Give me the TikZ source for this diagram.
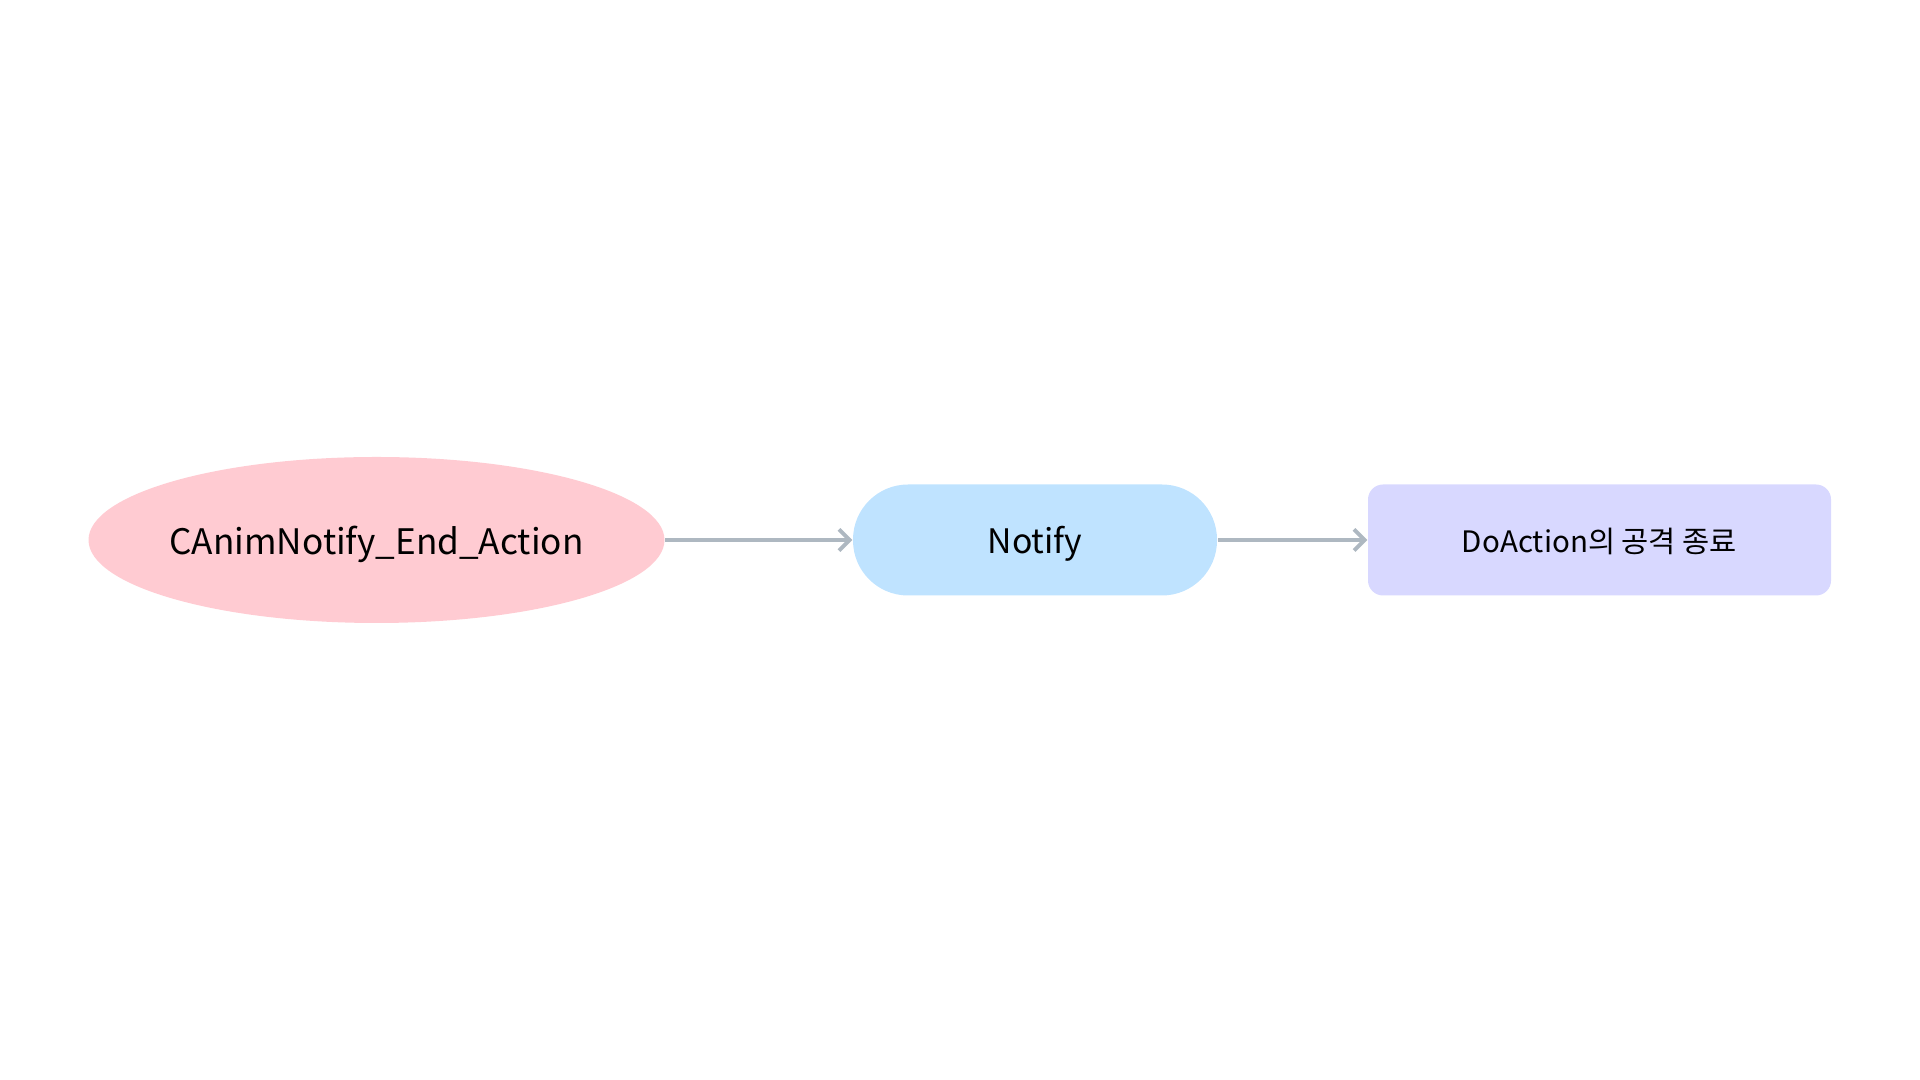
\documentclass[tikz,border=0pt]{standalone}
\usepackage{fontspec}
\setmainfont{Noto Sans CJK KR}
\usetikzlibrary{shapes.geometric, arrows.meta}
\definecolor{startpink}{HTML}{FFCBD2}
\definecolor{callblue}{HTML}{BFE3FF}
\definecolor{endviolet}{HTML}{D8D8FF}
\definecolor{linkgray}{HTML}{AEB8C1}
\begin{document}
\begin{tikzpicture}[>={Straight Barb[length=3pt,width=6pt]},
  startnode/.style={ellipse, fill=startpink, inner xsep=-0.25cm, inner ysep=0pt, text depth=0pt, minimum width=5.76cm, minimum height=1.66cm, font=\fontsize{10pt}{12pt}\selectfont},
  callnode/.style={rectangle, rounded corners=0.55cm, fill=callblue, text depth=0pt, minimum width=3.64cm, minimum height=1.11cm, font=\fontsize{9.6pt}{12pt}\selectfont},
  endnode/.style={rectangle, rounded corners=0.15cm, fill=endviolet, text depth=0pt, minimum width=4.63cm, minimum height=1.11cm, font=\fontsize{8.4pt}{10pt}\selectfont},
  link/.style={->, draw=linkgray, line width=1.1pt}]
\useasboundingbox (0,0) rectangle (19.2,10.8);
\node[startnode] (anim) at (3.765,5.4) {CAnimNotify\_End\_Action};
\node[callnode] (notify) at (10.35,5.4) {Notify};
\node[endnode] (finish) at (15.995,5.4) {DoAction의 공격 종료};
\draw[link] (anim) -- (notify);
\draw[link] (notify) -- (finish);
\end{tikzpicture}
\end{document}
